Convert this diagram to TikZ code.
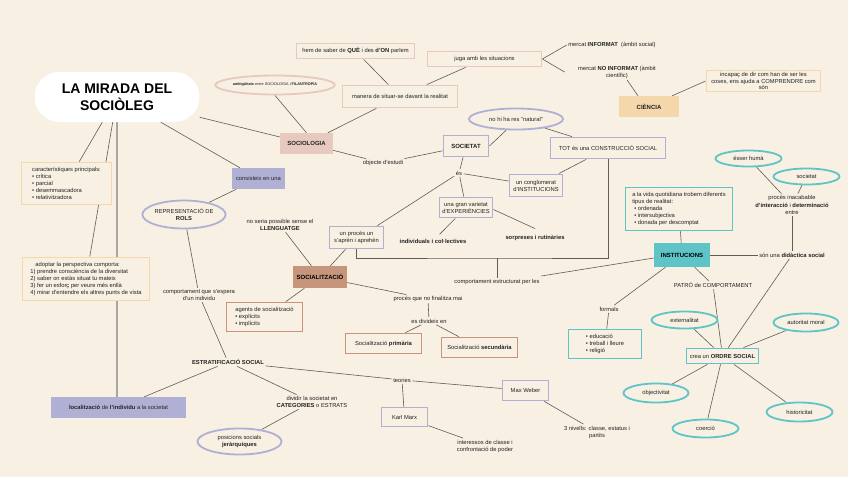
\documentclass[tikz,border=0pt]{standalone}
\usepackage{fontspec}
\setmainfont{Liberation Sans}
\usetikzlibrary{shapes.geometric,backgrounds}
\definecolor{bgc}{RGB}{247,240,227}
\definecolor{pinkc}{RGB}{231,201,191}
\definecolor{tanc}{RGB}{244,215,171}
\definecolor{lavc}{RGB}{176,176,212}
\definecolor{brownc}{RGB}{199,149,123}
\definecolor{tealc}{RGB}{94,196,200}
\definecolor{linec}{RGB}{95,92,88}
\definecolor{txtc}{RGB}{35,35,35}

\begin{document}
\begin{tikzpicture}[x=1pt, y=-1pt, font=\fontsize{5.8}{7}\selectfont, text=txtc,
  bx/.style={line width=1.8pt, fill=bgc, inner sep=1pt, align=center},
  pkbox/.style={bx, draw=pinkc},
  tnbox/.style={bx, draw=tanc},
  lvbox/.style={bx, draw=lavc},
  brbox/.style={bx, draw=brownc},
  tlbox/.style={bx, draw=tealc},
  fl/.style={inner sep=1pt, align=center, font=\fontsize{6}{7}\selectfont\bfseries},
  ell/.style={ellipse, line width=1.8pt, fill=bgc, inner sep=0pt, align=center},
  lbl/.style={inner sep=1.5pt, align=center},
  con/.style={draw=linec, line width=0.6pt}]
  \useasboundingbox (0,0) rectangle (848,477);

  \node[fill=white, rounded corners=25pt, minimum width=165pt, minimum height=50pt, align=center, text=black,
    font=\fontsize{14}{17}\selectfont\bfseries] (title) at (117,97) {LA MIRADA DEL\\SOCIÒLEG};
  \node[tnbox, minimum width=90pt, minimum height=42pt, align=left] (carac) at (66.5,183.5)
    {característiques principals:\\\textbullet\ crítica\\\textbullet\ parcial\\\textbullet\ desemmascadora\\\textbullet\ relativitzadora};
  \node[tnbox, minimum width=127pt, minimum height=43pt, align=left] (adopt) at (86,279)
    {\hspace*{5pt}adoptar la perspectiva comporta:\\1) prendre consciència de la diversitat\\2) saber on estàs situat tu mateix\\3) fer un esforç per veure més enllà\\4) mirar d'entendre els altres punts de vista};
  \node[fl, fill=lavc, minimum width=135pt, minimum height=21pt, font=\fontsize{5.8}{7}\selectfont] (loc) at (118.5,407.5)
    {\textbf{localització} de \textbf{l'individu} a la societat};

  \node[fl, fill=pinkc, minimum width=53pt, minimum height=21pt] (soc) at (306.5,143.5) {SOCIOLOGIA};
  \node[ell, draw=pinkc, minimum width=115pt, minimum height=19pt, font=\fontsize{3.8}{4.5}\selectfont] (ambig) at (275,85)
    {\textbf{ambigüitats} entre SOCIOLOGIA i \textbf{FILANTROPIA}};
  \node[pkbox, minimum width=115pt, minimum height=22pt] (manera) at (400,96.5) {manera de situar-se davant la realitat};
  \node[pkbox, minimum width=118pt, minimum height=15pt] (hem) at (355.5,51) {hem de saber de \textbf{QUÈ} i des \textbf{d'ON} parlem};
  \node[pkbox, minimum width=114pt, minimum height=15pt] (juga) at (484.5,59) {juga amb les situacions};
  \node[lbl] (inf) at (612,45) {mercat \textbf{INFORMAT}\ \ (àmbit social)};
  \node[lbl] (noinf) at (617,72) {mercat \textbf{NO INFORMAT} (àmbit\\científic)};
  \node[fl, fill=tanc, minimum width=60pt, minimum height=21pt] (cien) at (649,106.5) {CIÈNCIA};
  \node[tnbox, minimum width=114pt, minimum height=21pt, font=\fontsize{5.8}{6.6}\selectfont] (incap) at (763.5,81)
    {incapaç de dir com han de ser les\\coses, ens ajuda a COMPRENDRE com\\són};

  \node[lbl] (obj) at (383,163) {objecte d'estudi};
  \node[lvbox, minimum width=45pt, minimum height=21pt, font=\fontsize{6}{7}\selectfont\bfseries] (societat) at (466,146) {SOCIETAT};
  \node[ell, draw=lavc, minimum width=94pt, minimum height=21pt] (natural) at (516,119) {no hi ha res "natural"};
  \node[lvbox, minimum width=115pt, minimum height=21pt] (tot) at (608,148) {TOT és una CONSTRUCCIÓ SOCIAL};
  \node[lbl] (es) at (459,173) {és};
  \node[lvbox, minimum width=53pt, minimum height=22pt] (conglom) at (536,185.5) {un conglomerat\\d'INSTITUCIONS};
  \node[lvbox, minimum width=53pt, minimum height=20pt] (varietat) at (466,207.5) {una gran varietat\\d'EXPERIÈNCIES};
  \node[lbl, font=\fontsize{5.8}{7}\selectfont\bfseries] (indiv) at (433,241) {individuals i col·lectives};
  \node[lbl, font=\fontsize{5.8}{7}\selectfont\bfseries] (sorp) at (535,238) {sorpreses i rutinàries};
  \node[lvbox, minimum width=54pt, minimum height=22pt] (proces) at (356.5,237.5) {un procés un\\s'aprèn i aprehèn};
  \node[lbl] (comp) at (497,282) {comportament estructurat per les};
  \coordinate (junc) at (497,258);

  \node[fl, fill=brownc, minimum width=54pt, minimum height=22pt, text=black] (socz) at (320,277) {SOCIALITZACIÓ};
  \node[lbl] (lleng) at (280,225) {no seria possible sense el\\\textbf{LLENGUATGE}};
  \node[lbl] (fin) at (428,299) {procés que no finalitza mai};
  \node[lbl] (divid) at (429,321) {es divideix en};
  \node[brbox, minimum width=76pt, minimum height=20pt] (prim) at (383.5,343.5) {Socialització \textbf{primària}};
  \node[brbox, minimum width=76pt, minimum height=20pt] (sec) at (479.5,347.5) {Socialització \textbf{secundària}};
  \node[brbox, minimum width=76pt, minimum height=29pt, align=left] (agents) at (264.5,317)
    {agents de socialització\\\textbullet\ explícits\\\textbullet\ implícits};

  \node[fl, fill=lavc, minimum width=53pt, minimum height=21pt, font=\fontsize{5.8}{7}\selectfont] (cons) at (258.5,178.5) {consisteix en una};
  \node[ell, draw=lavc, minimum width=83pt, minimum height=28pt] (repr) at (184,214.5) {REPRESENTACIÓ DE\\\textbf{ROLS}};
  \node[lbl] (compesp) at (199,295) {comportament que s'espera\\d'un individu};
  \node[lbl, font=\fontsize{5.8}{7}\selectfont\bfseries] (estrat) at (228,362) {ESTRATIFICACIÓ SOCIAL};
  \node[lbl] (dividir) at (312,402) {dividir la societat en\\\textbf{CATEGORIES} o ESTRATS};
  \node[ell, draw=lavc, minimum width=84pt, minimum height=26pt] (posic) at (239.5,441.5) {posicions socials\\\textbf{jeràrquiques}};
  \node[lbl] (teories) at (402,380) {teories};
  \node[lvbox, minimum width=46pt, minimum height=20pt] (weber) at (525.5,390.5) {Max Weber};
  \node[lvbox, minimum width=46pt, minimum height=19pt] (marx) at (404.5,417) {Karl Marx};
  \node[lbl] (inter) at (485,446) {interessos de classe i\\confrontació de poder};
  \node[lbl] (nivells) at (597,432) {3 nivells: classe, estatus i\\partits};

  \node[fl, fill=tealc, minimum width=56pt, minimum height=24pt, text=black] (inst) at (682,255) {INSTITUCIONS};
  \node[tlbox, minimum width=107pt, minimum height=43pt, align=left] (avida) at (679,209)
    {a la vida quotidiana trobem diferents\\tipus de realitat:\\\hspace*{2pt}\textbullet\ ordenada\\\hspace*{2pt}\textbullet\ intersubjectiva\\\hspace*{2pt}\textbullet\ donada per descomptat};
  \node[lbl] (sonuna) at (792,255) {són una \textbf{didàctica social}};
  \node[lbl, font=\fontsize{5.8}{7.5}\selectfont] (procinac) at (792,205) {procés inacabable\\\textbf{d'interacció} i \textbf{determinació}\\entre};
  \node[ell, draw=tealc, minimum width=66pt, minimum height=16pt] (esser) at (748.5,158.5) {ésser humà};
  \node[ell, draw=tealc, minimum width=66pt, minimum height=16pt] (soc2) at (806.5,176.5) {societat};
  \node[lbl] (patro) at (713,285) {PATRÓ de COMPORTAMENT};
  \node[lbl] (formals) at (609,309) {formals};
  \node[tlbox, minimum width=73pt, minimum height=29pt, align=left] (educ) at (605,344)
    {\textbullet\ educació\\\textbullet\ treball i lleure\\\textbullet\ religió};
  \node[tlbox, minimum width=72pt, minimum height=15pt] (ordre) at (722.5,356) {crea un \textbf{ORDRE SOCIAL}};
  \node[ell, draw=tealc, minimum width=66pt, minimum height=17pt] (extern) at (684.5,320) {externalitat};
  \node[ell, draw=tealc, minimum width=65pt, minimum height=18pt] (autor) at (806,322.5) {autoritat moral};
  \node[ell, draw=tealc, minimum width=65pt, minimum height=19pt] (objectiv) at (656,393) {objectivitat};
  \node[ell, draw=tealc, minimum width=66pt, minimum height=18pt] (coerc) at (705.5,428.5) {coerció};
  \node[ell, draw=tealc, minimum width=66pt, minimum height=19pt] (histor) at (799.5,412) {historicitat};

  \begin{scope}[on background layer]
    \fill[bgc] (0,0) rectangle (848,477);
    \draw[con] (title) -- (soc);
    \draw[con] (title) -- (cons);
    \draw[con] (title) -- (carac);
    \draw[con] (title) -- (adopt);
    \draw[con, line width=1.4pt, draw=linec!55] (title.south) -- (title.south |- loc.north);
    \draw[con] (ambig.south) -- (soc.north);
    \draw[con] (soc) -- (manera);
    \draw[con] (manera) -- (hem);
    \draw[con] (manera) -- (juga);
    \draw[con] (juga.east) -- (inf.west);
    \draw[con] (juga.east) -- ([xshift=-12pt]noinf.west);
    \draw[con] ([xshift=10pt]noinf.south) -- ([xshift=-11pt]cien.north);
    \draw[con] ([xshift=-7pt]cien.north east) -- (incap.west);
    \draw[con] (soc) -- (obj);
    \draw[con] (obj) -- (societat);
    \draw[con] (societat.east) -- ([xshift=-10pt]natural.south);
    \draw[con] (natural) -- ([xshift=-36pt]tot.north);
    \draw[con] (societat) -- (es);
    \draw[con] (es) -- (varietat);
    \draw[con] (es) -- (conglom);
    \draw[con] (es) -- ([xshift=-7pt]proces.north east);
    \draw[con] (tot) -- (conglom);
    \draw[con, shorten >=4pt] (varietat) -- (indiv);
    \draw[con] ([yshift=-2pt]varietat.east) -- ([yshift=5pt]sorp.north);
    \draw[con] (proces.south) |- (junc) -| (tot.south);
    \draw[con] (junc) -- (comp);
    \draw[con] ([yshift=6pt]comp.east) -- ([yshift=-3pt]inst.west);
    \draw[con] (socz) -- (proces);
    \draw[con] (socz) -- (lleng);
    \draw[con] (socz) -- (fin);
    \draw[con] (fin) -- (divid);
    \draw[con] (divid) -- (prim);
    \draw[con] (divid) -- (sec);
    \draw[con] (socz) -- (agents);
    \draw[con] (cons) -- (repr);
    \draw[con] (repr) -- (compesp);
    \draw[con] (compesp) -- (estrat);
    \draw[con] (estrat) -- (loc);
    \draw[con] (estrat) -- (dividir);
    \draw[con] (estrat) -- (teories);
    \draw[con] (dividir) -- (posic);
    \draw[con] (teories) -- (weber);
    \draw[con] (teories) -- (marx);
    \draw[con] (marx) -- (inter);
    \draw[con] (weber) -- (nivells);
    \draw[con] (inst) -- (avida);
    \draw[con] (inst) -- (sonuna);
    \draw[con] (sonuna) -- (procinac);
    \draw[con] (esser) -- (procinac);
    \draw[con] (soc2) -- (procinac);
    \draw[con] (sonuna) -- (ordre);
    \draw[con] (inst) -- (formals);
    \draw[con] (formals) -- (educ);
    \draw[con] (inst) -- (patro);
    \draw[con] (patro) -- (ordre);
    \draw[con] (extern) -- (ordre);
    \draw[con] (autor) -- (ordre);
    \draw[con] (ordre) -- (objectiv);
    \draw[con] (ordre) -- (coerc);
    \draw[con] (ordre) -- (histor);
  \end{scope}
\end{tikzpicture}
\end{document}
